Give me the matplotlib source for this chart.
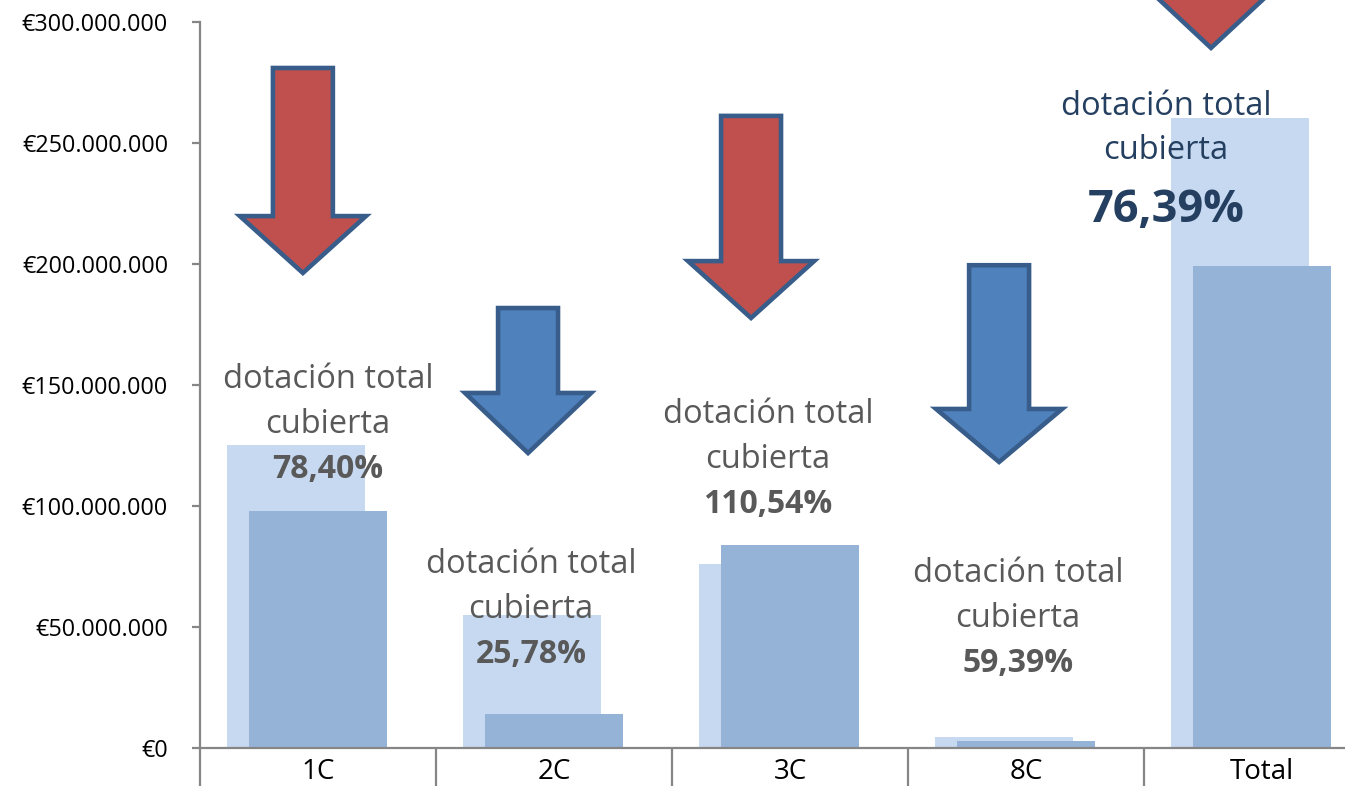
import matplotlib
matplotlib.use('Agg')

import matplotlib.pyplot as plt
from matplotlib.patches import Polygon
from matplotlib.ticker import FuncFormatter

# Data (euros)
categories = ['1C', '2C', '3C', '8C', 'Total']
dotacion_total = [125.2e6, 55.0e6, 76.0e6, 4.5e6, 260.5e6]
dotacion_cubierta = [98.0e6, 14.2e6, 84.0e6, 2.7e6, 199.0e6]
pct_labels = ['78,40%', '25,78%', '110,54%', '59,39%', '76,39%']

# Arrow decorations: colour per category, then (x offset, top, head base, tip)
arrow_colors = ['red', 'blue', 'red', 'blue', 'red']
arrow_layout = [
    (-0.064, 281.0e6, 219.8e6, 196.3e6),
    (-0.110, 181.8e6, 146.7e6, 121.9e6),
    (-0.165, 261.2e6, 201.2e6, 177.7e6),
    (-0.114, 199.5e6, 140.1e6, 118.2e6),
    (-0.216, 373.6e6, 313.6e6, 289.3e6),
]
# Text blocks: (x offset from category, first baseline)
text_layout = [
    (0.042, 148.8e6),
    (-0.097, 72.3e6),
    (-0.093, 134.3e6),
    (-0.034, 68.6e6),
    (-0.407, 261.6e6),
]

FONT = 'Open Sans'
plt.rcParams['font.family'] = [FONT, 'DejaVu Sans']

LIGHT = '#C6D9F1'
DARK = '#95B3D7'
AXIS_GRAY = '#868686'
TEXT_GRAY = '#595959'
NAVY = '#243F60'
FILLS = {'red': '#C0504D', 'blue': '#4F81BD'}
EDGE = '#385D8A'

fig = plt.figure(figsize=(13.45, 7.86), dpi=100)
ax = fig.add_axes([200 / 1345, 38 / 786, 1180 / 1345, 726 / 786])

x = list(range(len(categories)))
bar_w = 0.585
ax.bar([i - 0.093 for i in x], dotacion_total, width=bar_w, color=LIGHT, zorder=2)
ax.bar(x, dotacion_cubierta, width=bar_w, color=DARK, zorder=3)

ax.set_xlim(-0.5, len(categories) - 0.5)
ax.set_ylim(0, 300e6)

# arrows
shaft_hw = 0.127
head_hw = 0.267
for i, (dx, top, base, tip) in enumerate(arrow_layout):
    cx = i + dx
    pts = [
        (cx - shaft_hw, top), (cx + shaft_hw, top), (cx + shaft_hw, base),
        (cx + head_hw, base), (cx, tip), (cx - head_hw, base), (cx - shaft_hw, base),
    ]
    ax.add_patch(Polygon(pts, closed=True, facecolor=FILLS[arrow_colors[i]],
                         edgecolor=EDGE, linewidth=3.3, clip_on=False, zorder=5))

# text blocks
for i, (dx, yb) in enumerate(text_layout):
    is_total = categories[i] == 'Total'
    color = NAVY if is_total else TEXT_GRAY
    tx = i + dx
    ax.annotate('dotación total', (tx, yb), ha='center', va='baseline',
                fontsize=23.5, color=color, zorder=6, annotation_clip=False)
    ax.annotate('cubierta', (tx, yb), xytext=(0, -45 if not is_total else -44),
                textcoords='offset pixels', ha='center', va='baseline',
                fontsize=23.5, color=color, zorder=6, annotation_clip=False)
    ax.annotate(pct_labels[i], (tx, yb), xytext=(0, -90 if not is_total else -107),
                textcoords='offset pixels', ha='center', va='baseline',
                fontsize=32.5 if is_total else 23, fontweight='bold', color=color,
                zorder=6, annotation_clip=False)

# axes styling
for side in ['top', 'right']:
    ax.spines[side].set_visible(False)
for side in ['left', 'bottom']:
    ax.spines[side].set_color(AXIS_GRAY)
    ax.spines[side].set_linewidth(1.6)
ax.spines['bottom'].set_zorder(4)

ax.set_yticks([0, 50e6, 100e6, 150e6, 200e6, 250e6, 300e6])
ax.yaxis.set_major_formatter(FuncFormatter(
    lambda v, p: '€' + f'{int(v):,}'.replace(',', '.')))
ax.tick_params(axis='y', direction='out', length=6, width=1.6, color=AXIS_GRAY,
               pad=17, labelsize=16.8, labelcolor='black')

ax.set_xticks(x)
ax.set_xticklabels(categories)
ax.set_xticks([i - 0.5 for i in range(len(categories) + 1)], minor=True)
ax.tick_params(axis='x', which='major', length=0, pad=7, labelsize=20, labelcolor='black')
ax.tick_params(axis='x', which='minor', direction='out', length=28, width=1.6,
               color=AXIS_GRAY)

fig.savefig('out.png', dpi=100)
plt.close('all')
